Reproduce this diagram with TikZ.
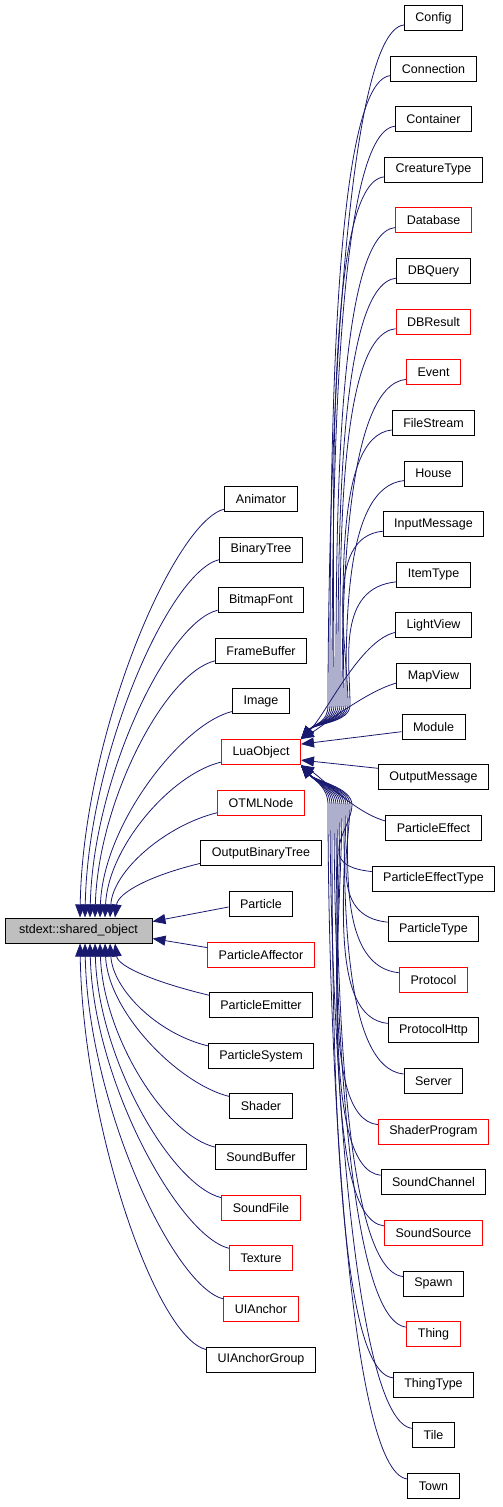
\documentclass[tikz,border=0pt]{standalone}
\usepackage{fontspec}
\setmainfont{Liberation Sans}
\usetikzlibrary{arrows.meta,calc}
\definecolor{edgeblue}{HTML}{191970}
\tikzset{every node/.style={font=\fontsize{12.5}{14}\selectfont}}
\tikzset{cls/.style={draw=black,line width=1pt,minimum height=25pt,inner xsep=11pt,inner ysep=0pt},
  undoc/.style={cls,draw=red},
  inh/.style={draw=edgeblue,line width=0.8pt,-{Triangle[length=13pt,width=10pt]}}}

\begin{document}
\begin{tikzpicture}[x=1pt,y=-1pt]
  \useasboundingbox (0,0) rectangle (503,1507);
  \node[cls,fill=gray!50,minimum width=147pt] (shared) at (78.5,930.5) {stdext::shared\_object};
  % middle column
  \foreach \n/\st [count=\i from 0] in {Animator/cls, BinaryTree/cls, BitmapFont/cls, FrameBuffer/cls, Image/cls, LuaObject/undoc, OTMLNode/undoc, OutputBinaryTree/cls, Particle/cls, ParticleAffector/undoc, ParticleEmitter/cls, ParticleSystem/cls, Shader/cls, SoundBuffer/cls, SoundFile/undoc, Texture/undoc, UIAnchor/undoc, UIAnchorGroup/cls}
    \node[\st] (\n) at (261,{499+50.62*\i}) {\n};
  % right column
  \foreach \n/\st [count=\i from 0] in {Config/cls, Connection/cls, Container/cls, CreatureType/cls, Database/undoc, DBQuery/cls, DBResult/undoc, Event/undoc, FileStream/cls, House/cls, InputMessage/cls, ItemType/cls, LightView/cls, MapView/cls, Module/cls, OutputMessage/cls, ParticleEffect/cls, ParticleEffectType/cls, ParticleType/cls, Protocol/undoc, ProtocolHttp/cls, Server/cls, ShaderProgram/undoc, SoundChannel/cls, SoundSource/undoc, Spawn/cls, Thing/undoc, ThingType/cls, Tile/cls, Town/cls}
    \node[\st] (\n) at (433.5,{18+50.62*\i}) {\n};

  % edges into shared_object
  \foreach \n [count=\i from 0] in {Animator, BinaryTree, BitmapFont, FrameBuffer, Image, LuaObject, OTMLNode, OutputBinaryTree}
    \draw[inh] ([yshift=3pt]\n.south west) .. controls +(-50,12) and +(3,{-0.45*(918-508.5-50.62*\i)}) .. ([xshift={(1.5+5*\i)*1pt}]shared.north);
  \draw[inh] ([yshift=-3pt]Particle.west) -- ([yshift=9pt]shared.east);
  \draw[inh] ([yshift=7pt]ParticleAffector.west) -- ([yshift=-8pt]shared.east);
  \foreach \n [count=\i from 10] in {ParticleEmitter, ParticleSystem, Shader, SoundBuffer, SoundFile, Texture, UIAnchor, UIAnchorGroup}
    \draw[inh] ([yshift=-3pt]\n.north west) .. controls +(-50,-12) and +(3,{0.45*(499-9.5+50.62*\i-943)}) .. ([xshift={(1.5+5*(17-\i))*1pt}]shared.south);

  % edges into LuaObject
  \foreach \n [count=\i from 0] in {Config, Connection, Container, CreatureType, Database, DBQuery, DBResult, Event, FileStream, House, InputMessage, ItemType}
    \draw[inh] ([yshift=6pt]\n.south west) .. controls +(-60,6) and ({328+2*\i},{705-0.35*(705-24-50.62*\i)}) .. ({328+2*\i},705) .. controls +(0,18) and +(14,-16) .. (LuaObject.north east);
  \draw[inh] ([yshift=6pt]LightView.south west) .. controls +(-35,8) and +(25,-25) .. (LuaObject.north east);
  \draw[inh] ([yshift=6pt]MapView.south west) .. controls +(-30,8) and +(20,-12) .. (LuaObject.north east);
  \draw[inh] ([yshift=-5pt]Module.west) -- ([yshift=8pt]LuaObject.east);
  \draw[inh] ([yshift=9pt]OutputMessage.west) -- ([yshift=-8pt]LuaObject.east);
  \draw[inh] ([yshift=-6pt]ParticleEffect.north west) .. controls +(-30,-8) and +(20,12) .. (LuaObject.south east);
  \foreach \n [count=\i from 17] in {ParticleEffectType, ParticleType, Protocol, ProtocolHttp, Server, ShaderProgram, SoundChannel, SoundSource, Spawn, Thing, ThingType, Tile, Town}
    \draw[inh] ([yshift=-6pt]\n.north west) .. controls +(-60,-6) and ({328+2*(29-\i)},{805+0.35*(18-6.5+50.62*\i-805)}) .. ({328+2*(29-\i)},805) .. controls +(0,-18) and +(14,16) .. (LuaObject.south east);
\end{tikzpicture}
\end{document}
